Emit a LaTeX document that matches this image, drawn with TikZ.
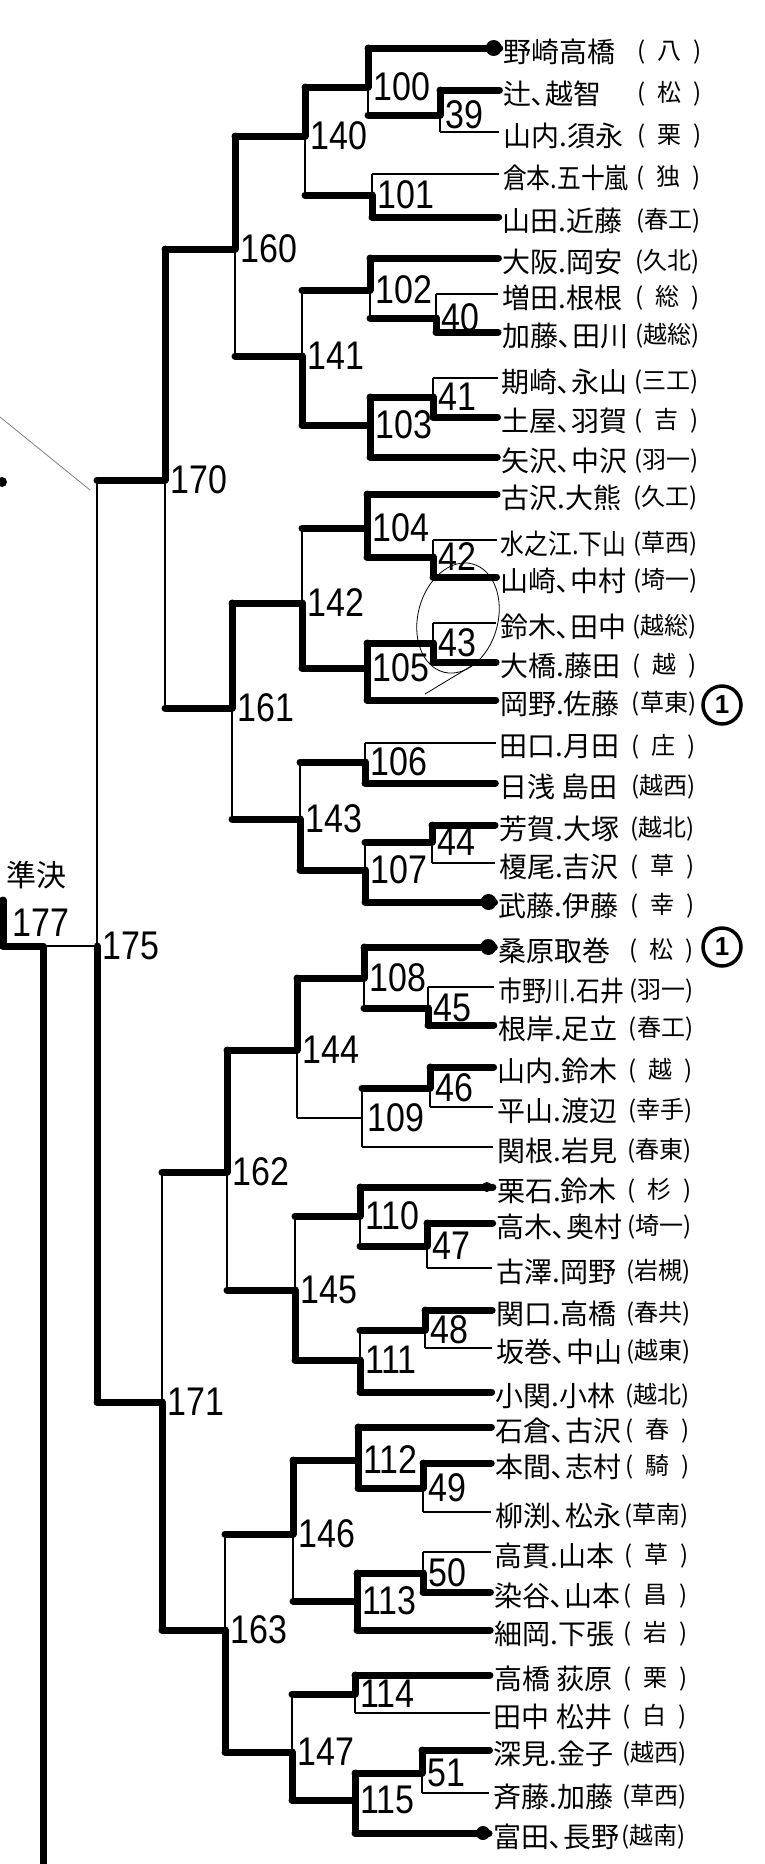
\documentclass[tikz,border=0pt]{standalone}
\usepackage{fontspec}
\usepackage{graphicx}
\setmainfont{Liberation Sans}
\newfontfamily\jpfont{Noto Sans CJK JP}
\newfontfamily\numfont[FakeStretch=0.85]{Liberation Sans}
\newcommand\squeeze[1]{\scalebox{0.85}[1]{#1}}
\usetikzlibrary{calc}

\begin{document}
\begin{tikzpicture}[x=1pt, y=-1pt,
    won/.style={line width=7pt, line cap=round, line join=round},
    lost/.style={line width=1.5pt},
    lbl/.style={font=\numfont\fontsize{40}{40}\selectfont, inner sep=0pt, anchor=west},
    plr/.style={font=\jpfont\fontsize{28}{28}\selectfont, inner sep=0pt, anchor=west},
    sch/.style={font=\jpfont\fontsize{24}{24}\selectfont, inner sep=0pt, anchor=west},
    mk/.style={circle, draw, line width=3.5pt, minimum size=38pt, inner sep=0pt,
        font=\bfseries\fontsize{26}{26}\selectfont}]
    \useasboundingbox (0,0) rectangle (764,1864);
    \fill[white] (0,0) rectangle (764,1864);
    % match points: vertical line x, result y
    \foreach \m/\x/\y in {39/440/115, 40/436/318, 41/433/397, 42/433/557, 43/433/643,
        44/432/842, 45/428/1008, 46/430/1088, 47/427/1246, 48/425/1330, 49/423/1488,
        50/423/1573, 51/422/1773,
        100/368/87, 101/372/195, 102/370/290, 103/370/425, 104/367/528, 105/367/668,
        106/365/762, 107/365/870, 108/364/978, 109/362/1118, 110/360/1216, 111/360/1360,
        112/358/1460, 113/357/1601, 114/355/1694, 115/355/1800,
        140/305/136, 141/302/356, 142/302/603, 143/300/819, 144/297/1050, 145/295/1290,
        146/293/1534, 147/292/1752,
        160/235/249, 161/232/708, 162/227/1172, 163/225/1630,
        170/165/480, 171/162/1402, 175/97/946}
        \coordinate (m\m) at (\x,\y);
    \foreach \m in {39,40,41,42,43,44,45,46,47,48,49,50,51,100,101,102,103,104,105,
        106,107,108,109,110,111,112,113,114,115,140,141,142,143,144,145,146,147,
        160,161,162,163,170,171,175}
        \node[lbl] (l\m) at ([xshift=5pt]m\m) {\m};
    % players: line y, names, school
    \foreach \i/\y/\nm/\sc in {1/48/野崎高橋/八, 2/90/辻､越智/松, 3/132/山内.須永/栗,
        4/174/\squeeze{倉本.五十嵐}/独, 5/217/山田.近藤/春工, 6/258/大阪.岡安/久北,
        7/294/増田.根根/総, 8/332/加藤､田川/越総, 9/378/期崎､永山/三工,
        10/417/土屋､羽賀/吉, 11/457/矢沢､中沢/羽一, 12/494/古沢.大熊/久工,
        13/540/\squeeze{水之江.下山}/草西, 14/577/山崎､中村/埼一, 15/623/鈴木､田中/越総,
        16/662/大橋.藤田/越, 17/700/岡野.佐藤/草東, 18/743/田口.月田/庄,
        19/783/日浅 島田/越西, 20/825/芳賀.大塚/越北, 21/863/榎尾.吉沢/草,
        22/902/武藤.伊藤/幸, 23/947/桑原取巻/松, 24/987/\squeeze{市野川.石井}/羽一,
        25/1025/根岸.足立/春工, 26/1067/山内.鈴木/越, 27/1107/平山.渡辺/幸手,
        28/1147/関根.岩見/春東, 29/1187/栗石.鈴木/杉, 30/1223/高木､奥村/埼一,
        31/1268/古澤.岡野/岩槻, 32/1310/関口.高橋/春共, 33/1348/坂巻､中山/越東,
        34/1392/小関.小林/越北, 35/1427/石倉､古沢/春, 36/1463/本間､志村/騎,
        37/1512/柳渕､松永/草南, 38/1552/高貫.山本/草, 39/1592/染谷､山本/昌,
        40/1630/細岡.下張/岩, 41/1675/高橋 荻原/栗, 42/1713/田中 松井/白,
        43/1750/深見.金子/越西, 44/1793/斉藤.加藤/草西, 45/1833/富田､長野/越南} {
        \coordinate (e\i) at ({500-0.006*\y},\y);
        \node[plr] (n\i) at ([shift={(4,4)}]e\i) {\nm};
        \node[sch] (s\i) at ({638-0.009*\y},\y+4) {(\makebox[48pt][c]{\sc})};
    }
    % bracket lines: source, match, feed line, half of the vertical
    \foreach \s/\m/\es/\vs in {e1/m100/won/won, e2/m39/won/won, e3/m39/lost/lost,
        m39/m100/won/lost, e4/m101/lost/lost, e5/m101/won/won,
        m100/m140/won/won, m101/m140/won/lost,
        e6/m102/won/won, e7/m40/lost/lost, e8/m40/won/won, m40/m102/won/lost,
        e9/m41/lost/lost, e10/m41/won/won, m41/m103/won/won, e11/m103/won/won,
        m102/m141/won/lost, m103/m141/won/won,
        m140/m160/won/won, m141/m160/won/lost,
        e12/m104/won/won, e13/m42/lost/lost, e14/m42/won/won, m42/m104/won/won,
        e15/m43/lost/lost, e16/m43/won/won, m43/m105/won/won, e17/m105/won/won,
        m104/m142/won/lost, m105/m142/won/won,
        e18/m106/lost/lost, e19/m106/won/won, e20/m44/won/won, e21/m44/lost/lost,
        m44/m107/won/lost, e22/m107/won/won,
        m106/m143/won/lost, m107/m143/won/won,
        m142/m161/won/won, m143/m161/won/lost,
        m160/m170/won/won, m161/m170/won/lost,
        e23/m108/won/won, e24/m45/lost/lost, e25/m45/won/won, m45/m108/won/lost,
        e26/m46/won/won, e27/m46/lost/lost, m46/m109/won/lost, e28/m109/lost/lost,
        m108/m144/won/won, m109/m144/lost/lost,
        e29/m110/won/won, e30/m47/won/won, e31/m47/lost/lost, m47/m110/won/lost,
        e32/m48/won/won, e33/m48/lost/lost, m48/m111/won/lost, e34/m111/won/won,
        m110/m145/won/lost, m111/m145/won/won,
        m144/m162/won/won, m145/m162/won/lost,
        e35/m112/won/won, e36/m49/won/won, e37/m49/lost/lost, m49/m112/won/won,
        e38/m50/lost/lost, e39/m50/won/won, m50/m113/won/won, e40/m113/won/won,
        m112/m146/won/won, m113/m146/won/lost,
        e41/m114/won/won, e42/m114/lost/lost, e43/m51/won/won, e44/m51/lost/lost,
        m51/m115/won/won, e45/m115/won/won,
        m114/m147/won/lost, m115/m147/won/won,
        m146/m163/won/lost, m147/m163/won/won,
        m162/m171/won/lost, m163/m171/won/won,
        m170/m175/won/lost, m171/m175/won/won} {
        \draw[\es] (\s) -- (\m |- \s);
        \draw[\vs] (\m |- \s) -- (\m);
    }
    % semi-final
    \coordinate (f177) at (43,946);
    \coordinate (a177) at (3,946);
    \coordinate (t177) at (3,900);
    \coordinate (b177) at (43,1870);
    \draw[lost] (m175) -- (f177);
    \draw[won] (t177) -- (a177) -- (f177) -- (b177);
    \node[lbl] (l177) at (12,923) {177};
    \node[font=\jpfont\fontsize{30}{30}\selectfont] (q177) at (36,875) {準決};
    % seeds and marks
    \foreach \i/\r in {1/8, 22/8, 23/8, 29/5, 45/7}
        \fill ([xshift=-6pt]e\i) circle (\r pt);
    \node[mk] (k17) at (722,705) {1};
    \node[mk] (k23) at (722,947) {1};
    \draw[line width=0.8pt, rotate around={-15:(458,618)}] (458,618) ellipse (40pt and 56pt);
    \draw[line width=0.8pt] (425,694) -- (478,662);
    \draw[gray, line width=0.8pt] (0,417) -- (90,490);
    \fill (2,482) circle (5pt);
\end{tikzpicture}
\end{document}
